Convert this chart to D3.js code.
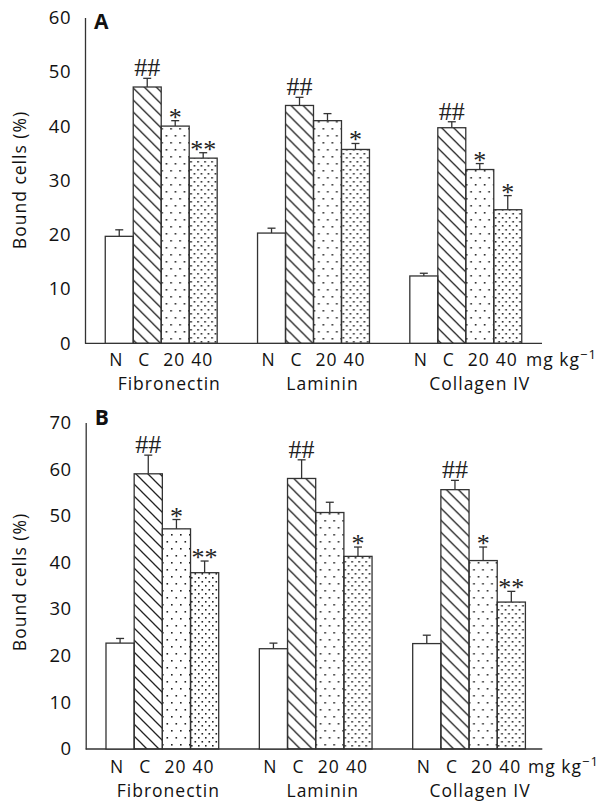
<!DOCTYPE html>
<html>
<head>
    <script src="https://cdnjs.cloudflare.com/ajax/libs/d3/7.8.5/d3.min.js"></script>
    <style>
        body { margin: 0; background: white; }
        .tick-label { font-family: "Open Sans", "Noto Sans", sans-serif; font-size: 17.5px; letter-spacing: 1px; fill: #111; }
        .y-tick { font-family: "Open Sans", "Noto Sans", sans-serif; font-size: 18.5px; letter-spacing: 0.5px; fill: #111; }
        .mark { font-family: "Liberation Serif", serif; font-size: 26px; fill: #222; }
        .panel-label { font-family: "Open Sans", sans-serif; font-size: 21px; font-weight: bold; fill: #111; }
    </style>
</head>
<body>
    <svg width="604" height="803"></svg>
    <script>
        // Data
        const groups = ["Fibronectin", "Laminin", "Collagen IV"];
        const treatments = ["N", "C", "20", "40"];
        const patterns = ["none", "hatch", "dotsSparse", "dotsDense"];

        const valuesA = [[19.7, 47.2, 40.0, 34.1], [20.3, 43.8, 41.0, 35.7], [12.4, 39.7, 32.0, 24.6]];
        const errorsA = [[1.2, 1.6, 1.0, 1.0], [0.9, 1.5, 1.3, 1.1], [0.5, 1.1, 1.1, 2.6]];
        const marksA = [["", "##", "*", "**"], ["", "##", "", "*"], ["", "##", "*", "*"]];
        const ticksA = [0, 10, 20, 30, 40, 50, 60];

        const valuesB = [[22.7, 59.0, 47.2, 37.8], [21.5, 58.0, 50.7, 41.3], [22.6, 55.6, 40.4, 31.5]];
        const errorsB = [[1.0, 4.0, 2.0, 2.5], [1.2, 4.0, 2.2, 2.0], [1.8, 2.0, 2.9, 2.3]];
        const marksB = [["", "##", "*", "**"], ["", "##", "", "*"], ["", "##", "*", "**"]];
        const ticksB = [0, 10, 20, 30, 40, 50, 60, 70];

        const svg = d3.select("svg");
        const defs = svg.append("defs");

        // Fill patterns
        const hatch = defs.append("pattern").attr("id", "hatch")
            .attr("patternUnits", "userSpaceOnUse").attr("width", 12).attr("height", 12);
        hatch.append("path").attr("d", "M-3,-3 L15,15 M-3,9 L3,15 M9,-3 L15,3")
            .attr("stroke", "#222").attr("stroke-width", 1.3);

        const sparse = defs.append("pattern").attr("id", "dotsSparse")
            .attr("patternUnits", "userSpaceOnUse").attr("width", 9).attr("height", 14);
        sparse.append("rect").attr("x", 2).attr("y", 2).attr("width", 1.6).attr("height", 1.6).attr("fill", "#222");
        sparse.append("rect").attr("x", 6.5).attr("y", 9).attr("width", 1.6).attr("height", 1.6).attr("fill", "#222");

        const dense = defs.append("pattern").attr("id", "dotsDense")
            .attr("patternUnits", "userSpaceOnUse").attr("width", 7).attr("height", 8);
        dense.append("rect").attr("x", 1).attr("y", 1).attr("width", 1.6).attr("height", 1.6).attr("fill", "#222");
        dense.append("rect").attr("x", 4.5).attr("y", 5).attr("width", 1.6).attr("height", 1.6).attr("fill", "#222");

        const labelShift = [-3, -3, -1, -1];

        function drawPanel(p) {
            const g = svg.append("g");

            const x0 = d3.scaleBand().domain(groups).range(p.xRange)
                .paddingInner(0.265).paddingOuter(0.133);
            const x1 = d3.scaleBand().domain(treatments).range([0, x0.bandwidth()]);
            const y = d3.scaleLinear().domain([0, d3.max(p.ticks)]).range(p.yRange);

            // Y axis
            const yAxis = g.append("g")
                .attr("transform", `translate(${p.axisX},0)`)
                .call(d3.axisLeft(y).tickValues(p.ticks).tickSize(0).tickPadding(14));
            yAxis.select(".domain").attr("stroke", "#333").attr("stroke-width", 1.3);
            yAxis.selectAll("text").attr("class", "y-tick").attr("font-family", null).attr("font-size", null);

            // Baseline
            g.append("line")
                .attr("x1", p.axisX).attr("x2", p.axisEnd)
                .attr("y1", y(0)).attr("y2", y(0))
                .attr("stroke", "#333").attr("stroke-width", 1.3);

            // Y title
            g.append("text").attr("class", "tick-label")
                .attr("transform", `translate(26,${p.titleY}) rotate(-90)`)
                .attr("text-anchor", "middle")
                .text("Bound cells (%)");

            g.append("text").attr("class", "panel-label")
                .attr("x", p.axisX + 9).attr("y", p.letterY)
                .text(p.letter);

            groups.forEach((grp, gi) => {
                const gg = g.append("g").attr("transform", `translate(${x0(grp)},0)`);
                treatments.forEach((t, ti) => {
                    const v = p.values[gi][ti];
                    const e = p.errors[gi][ti];
                    const bx = x1(t), bw = x1.bandwidth();
                    const cx = bx + bw / 2;
                    // error bar
                    gg.append("line").attr("x1", cx).attr("x2", cx)
                        .attr("y1", y(v)).attr("y2", y(v + e))
                        .attr("stroke", "#333").attr("stroke-width", 1.3);
                    gg.append("line").attr("x1", cx - 4).attr("x2", cx + 4)
                        .attr("y1", y(v + e)).attr("y2", y(v + e))
                        .attr("stroke", "#333").attr("stroke-width", 1.3);
                    // bar
                    gg.append("rect")
                        .attr("x", bx).attr("y", y(v))
                        .attr("width", bw).attr("height", y(0) - y(v))
                        .attr("fill", patterns[ti] === "none" ? "white" : `url(#${patterns[ti]})`)
                        .attr("stroke", "#333").attr("stroke-width", 1.3);
                    // significance mark
                    const m = p.marks[gi][ti];
                    if (m) {
                        gg.append("text").attr("class", "mark")
                            .attr("x", cx).attr("y", y(v + e) + (m[0] === "#" ? -2 : 5))
                            .attr("text-anchor", "middle")
                            .text(m);
                    }
                    // treatment label
                    gg.append("text").attr("class", "tick-label")
                        .attr("x", cx + labelShift[ti]).attr("y", p.labelY)
                        .attr("text-anchor", "middle")
                        .text(t);
                });
                gg.append("text").attr("class", "tick-label")
                    .attr("x", x0.bandwidth() / 2 + p.groupShift[gi]).attr("y", p.groupY)
                    .attr("text-anchor", "middle")
                    .text(grp);
            });

            // unit label
            const unit = g.append("text").attr("class", "tick-label")
                .attr("x", p.unitX).attr("y", p.labelY);
            unit.append("tspan").text("mg kg");
            unit.append("tspan").attr("dy", -7).attr("font-size", 13).text("\u22121");
        }

        drawPanel({
            letter: "A", letterY: 29,
            values: valuesA, errors: errorsA, marks: marksA, ticks: ticksA,
            xRange: [85, 542], yRange: [343.3, 17.5],
            axisX: 85, axisEnd: 542,
            titleY: 180, labelY: 366, groupY: 390,
            groupShift: [8, 9, 14], unitX: 526
        });

        drawPanel({
            letter: "B", letterY: 425,
            values: valuesB, errors: errorsB, marks: marksB, ticks: ticksB,
            xRange: [85.6, 545.8], yRange: [749, 422.5],
            axisX: 85.7, axisEnd: 542.3,
            titleY: 582, labelY: 773, groupY: 797,
            groupShift: [6, 7, 11], unitX: 528
        });
    </script>
</body>
</html>
